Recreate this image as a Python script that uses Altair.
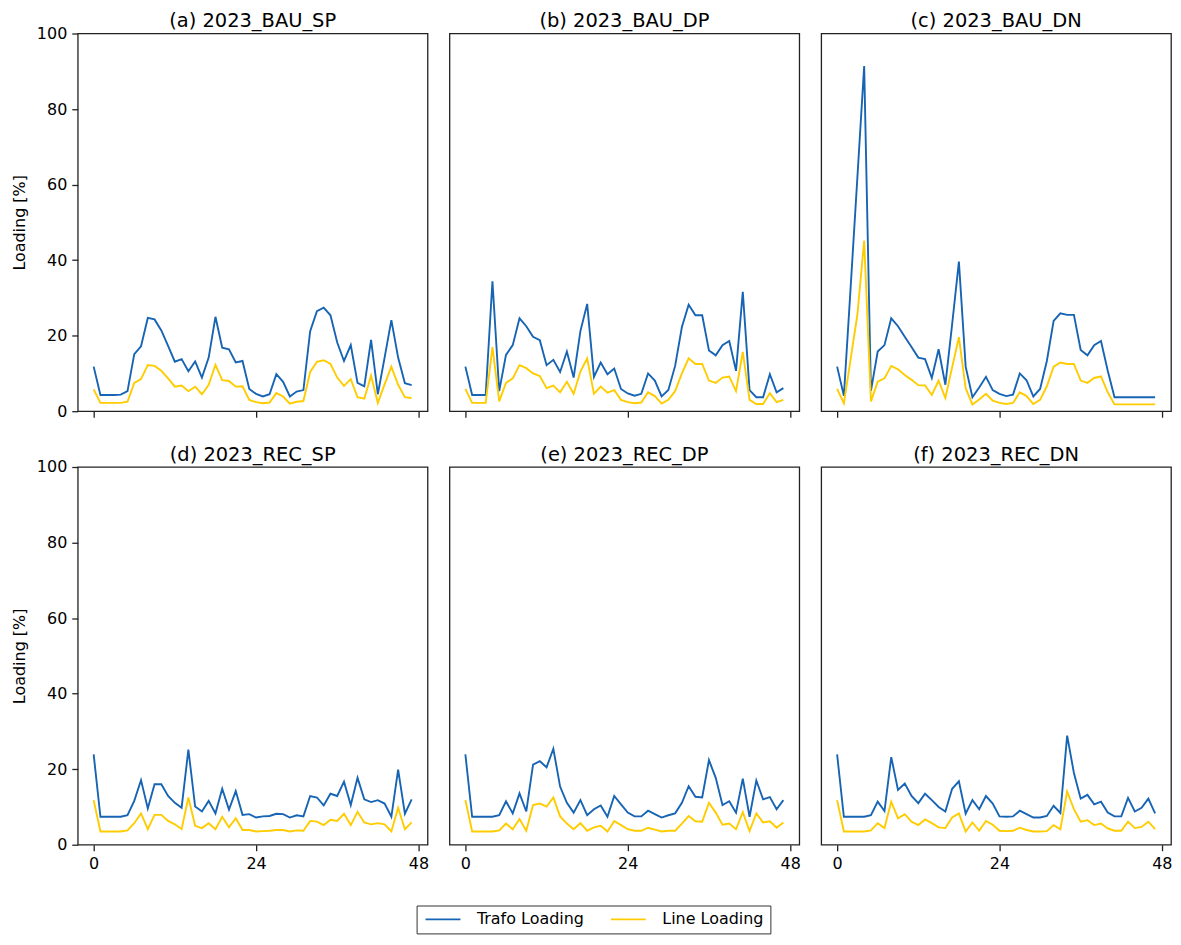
import altair as alt
import pandas as pd

hours = list(range(48))
series_names = ["Trafo Loading", "Line Loading"]
series_colors = ["#1764B4", "#FFCC00"]

titles = ["(a) 2023_BAU_SP", "(b) 2023_BAU_DP", "(c) 2023_BAU_DN",
          "(d) 2023_REC_SP", "(e) 2023_REC_DP", "(f) 2023_REC_DN"]

a_trafo = [11.8, 4.3, 4.3, 4.3, 4.4, 5.3, 15.1, 17.2, 24.7, 24.3, 21.4, 17.3, 13.1, 13.8, 10.6, 13.2,
           8.9, 14.2, 25.0, 16.8, 16.4, 12.9, 13.3, 5.9, 4.6, 3.9, 4.5, 9.8, 7.8, 3.9, 5.2, 5.6,
           21.2, 26.5, 27.4, 25.4, 18.2, 13.3, 17.5, 7.5, 6.6, 18.9, 4.5, 14.2, 24.1, 14.2, 7.4, 6.9]
a_line = [5.8, 2.2, 2.2, 2.2, 2.2, 2.5, 7.5, 8.5, 12.2, 12.0, 10.7, 8.7, 6.5, 6.8, 5.3, 6.5,
          4.5, 7.0, 12.3, 8.2, 8.0, 6.5, 6.6, 3.0, 2.4, 2.1, 2.3, 4.8, 3.9, 2.0, 2.5, 2.7,
          10.4, 13.1, 13.5, 12.5, 8.9, 6.7, 8.5, 3.7, 3.3, 9.4, 2.2, 7.1, 11.8, 7.0, 3.7, 3.5]

b_trafo = [11.8, 4.3, 4.3, 4.3, 34.4, 5.3, 14.9, 17.5, 24.6, 22.5, 19.7, 18.8, 12.2, 13.6, 10.4, 15.8,
           8.9, 21.2, 28.4, 9.1, 12.9, 9.8, 11.3, 5.9, 4.7, 4.1, 4.6, 10.0, 8.1, 3.9, 5.6, 12.0,
           22.3, 28.2, 25.4, 25.4, 16.1, 14.8, 17.5, 18.6, 10.7, 31.6, 5.6, 3.7, 3.7, 9.8, 5.0, 6.1]
b_line = [5.9, 2.2, 2.2, 2.2, 17.0, 2.6, 7.5, 8.7, 12.2, 11.4, 10.0, 9.3, 6.1, 6.8, 5.0, 7.8,
          4.6, 10.5, 14.0, 4.6, 6.5, 4.9, 5.6, 3.0, 2.4, 2.1, 2.3, 5.0, 4.0, 2.0, 3.0, 5.3,
          10.0, 14.0, 12.5, 12.5, 8.1, 7.5, 8.9, 9.2, 5.3, 15.7, 3.0, 1.9, 1.9, 4.8, 2.4, 3.0]

c_trafo = [11.8, 4.1, 32.8, 62.0, 91.4, 5.4, 15.8, 17.5, 24.6, 22.5, 19.7, 17.0, 14.2, 13.8, 8.8, 16.4,
           7.0, 23.0, 39.6, 11.8, 3.7, 6.3, 9.1, 5.6, 4.6, 4.0, 4.4, 10.0, 8.2, 3.9, 5.9, 13.3,
           23.9, 25.9, 25.5, 25.5, 16.2, 14.8, 17.5, 18.6, 10.7, 3.7, 3.7, 3.7, 3.7, 3.7, 3.7, 3.7]
c_line = [5.9, 2.1, 13.8, 25.6, 45.2, 2.6, 7.8, 8.7, 12.0, 11.1, 9.6, 8.3, 6.9, 6.8, 4.3, 8.1,
          3.5, 11.6, 19.6, 6.1, 1.8, 3.1, 4.6, 2.8, 2.2, 1.9, 2.2, 5.0, 4.0, 1.9, 3.0, 6.6,
          11.8, 12.9, 12.5, 12.5, 8.1, 7.5, 8.8, 9.2, 5.0, 1.8, 1.8, 1.8, 1.8, 1.8, 1.8, 1.8]

d_trafo = [23.9, 7.4, 7.4, 7.4, 7.4, 7.8, 11.6, 17.1, 9.6, 16.0, 16.0, 12.9, 11.1, 9.8, 25.2, 10.1,
           8.8, 11.6, 8.3, 14.8, 9.3, 14.2, 7.9, 8.1, 7.2, 7.5, 7.6, 8.2, 8.1, 7.2, 7.8, 7.5,
           12.9, 12.5, 10.4, 13.5, 12.9, 16.7, 10.5, 17.7, 12.0, 11.3, 11.8, 10.9, 7.4, 19.9, 8.2, 12.0]
d_line = [11.8, 3.5, 3.5, 3.5, 3.5, 3.8, 5.7, 8.3, 4.1, 7.9, 7.9, 6.3, 5.4, 4.1, 12.5, 5.0,
          4.4, 5.7, 4.1, 7.4, 4.6, 7.0, 3.9, 3.9, 3.5, 3.6, 3.7, 3.9, 3.9, 3.5, 3.8, 3.7,
          6.3, 6.1, 5.2, 6.6, 6.3, 8.2, 5.2, 8.7, 5.9, 5.4, 5.7, 5.4, 3.5, 9.8, 4.1, 5.9]

e_trafo = [23.9, 7.4, 7.4, 7.4, 7.4, 7.8, 11.5, 8.3, 13.6, 8.8, 21.2, 22.1, 20.5, 25.4, 15.4, 11.1,
           8.5, 11.8, 7.8, 9.4, 10.4, 7.4, 12.9, 10.7, 8.5, 7.5, 7.5, 9.0, 8.1, 7.2, 7.8, 8.3,
           11.1, 15.5, 12.7, 12.5, 22.4, 17.7, 10.5, 11.5, 8.5, 17.5, 7.4, 17.0, 12.0, 12.6, 9.4, 11.8]
e_line = [11.8, 3.5, 3.5, 3.5, 3.5, 3.8, 5.6, 4.1, 6.8, 3.7, 10.5, 10.9, 10.1, 12.5, 7.5, 5.6,
          4.1, 5.7, 3.7, 4.6, 5.0, 3.5, 6.3, 5.2, 4.1, 3.7, 3.7, 4.5, 4.0, 3.5, 3.7, 3.7,
          5.6, 7.6, 6.2, 6.1, 11.1, 8.5, 5.3, 5.6, 4.1, 8.6, 3.6, 8.3, 5.9, 6.2, 4.5, 5.9]

f_trafo = [23.9, 7.4, 7.4, 7.4, 7.4, 7.8, 11.4, 8.9, 23.2, 14.5, 16.2, 12.9, 11.0, 13.5, 11.8, 10.0,
           8.8, 14.8, 16.8, 8.2, 11.8, 9.4, 12.9, 10.9, 7.5, 7.4, 7.5, 9.0, 8.1, 7.2, 7.2, 7.6,
           10.3, 8.4, 28.9, 19.0, 12.2, 13.2, 10.7, 11.4, 8.5, 7.5, 7.5, 12.4, 8.8, 9.8, 12.2, 8.3]
f_line = [11.8, 3.5, 3.5, 3.5, 3.5, 3.8, 5.7, 4.4, 11.4, 7.0, 8.1, 6.1, 5.2, 6.7, 5.7, 4.6,
          4.4, 7.2, 8.3, 3.5, 5.9, 3.7, 6.3, 5.3, 3.7, 3.6, 3.7, 4.5, 3.9, 3.5, 3.5, 3.6,
          5.2, 4.1, 14.1, 9.4, 6.1, 6.5, 5.2, 5.6, 4.3, 3.7, 3.7, 6.1, 4.4, 4.7, 6.1, 4.1]

x_ticks = [0, 24, 48]
y_ticks = [0, 20, 40, 60, 80, 100]

panel_data = [(a_trafo, a_line), (b_trafo, b_line), (c_trafo, c_line),
              (d_trafo, d_line), (e_trafo, e_line), (f_trafo, f_line)]

FONT = "DejaVu Sans"
PW, PH = 351, 379


def make_panel(idx):
    trafo, line = panel_data[idx]
    row, col = divmod(idx, 3)
    df = pd.DataFrame({
        "t": hours + hours,
        "v": trafo + line,
        "s": [series_names[0]] * len(hours) + [series_names[1]] * len(hours),
        "o": [0] * len(hours) + [1] * len(hours),
    })
    x_axis_kw = dict(values=x_ticks, grid=False, domain=False, ticks=True,
                     labels=(row == 1), title=None)
    if row == 0:
        x_axis_kw["labelPadding"] = 0
    y_axis_kw = dict(values=y_ticks, grid=False, domain=False,
                     ticks=(col == 0), labels=(col == 0))
    if col == 0:
        y_axis_kw["title"] = "Loading [%]"
    else:
        y_axis_kw["title"] = None
    legend = alt.Legend(
        orient="none", legendX=340, legendY=875, direction="horizontal", title=None,
        symbolType="M-3.5,0H3.5", symbolSize=100, symbolStrokeWidth=1.8,
        symbolOffset=12.5, symbolFillColor="transparent",
        labelFontSize=16, labelFont=FONT, labelColor="black", labelOffset=26,
        columnPadding=23, padding=6, fillColor="white",
    )
    title_offset = -6 if col == 0 else 2
    return alt.Chart(df).mark_line(strokeWidth=1.9, clip=True).encode(
        x=alt.X("t:Q", scale=alt.Scale(domain=[-2.35, 49.35], nice=False, zero=False),
                axis=alt.Axis(**x_axis_kw)),
        y=alt.Y("v:Q", scale=alt.Scale(domain=[0, 100], nice=False),
                axis=alt.Axis(**y_axis_kw)),
        color=alt.Color("s:N", scale=alt.Scale(domain=series_names, range=series_colors),
                        legend=legend, sort=series_names),
        order=alt.Order("o:Q"),
    ).properties(
        width=PW, height=PH,
        title=alt.TitleParams(titles[idx], fontSize=19.5, font=FONT, fontWeight="normal",
                              color="black", anchor="middle", frame="group",
                              offset=title_offset),
    )


panels = [make_panel(i) for i in range(6)]

chart = alt.concat(*panels, columns=3, spacing={"row": 23, "column": 19}).properties(
    padding={"left": 2, "top": 0, "right": 0, "bottom": 0}
).configure_view(
    stroke="#222222", strokeWidth=1.3
).configure_axis(
    labelFont=FONT, labelFontSize=16, labelColor="black",
    titleFont=FONT, titleFontSize=16, titleFontWeight="normal", titleColor="black",
    tickColor="#222222", tickWidth=1.3, tickSize=6, labelPadding=5, titlePadding=9,
).configure_legend(
    strokeColor="#333333", strokeWidth=1, cornerRadius=0,
)

chart.save("out.html", embed_options={"renderer": "svg", "actions": False})
